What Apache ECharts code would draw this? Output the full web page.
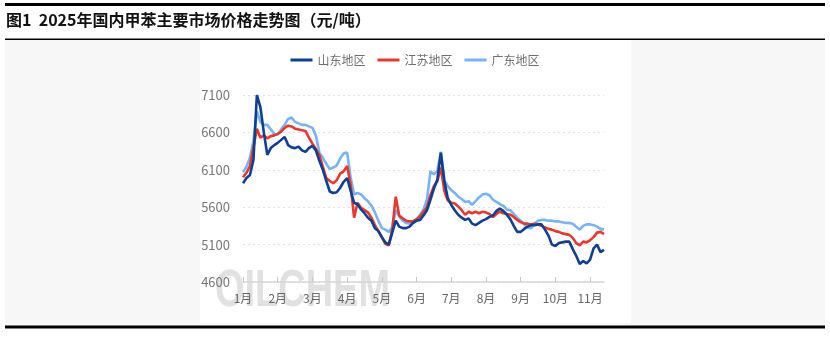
<!DOCTYPE html>
<html>
<head>
<meta charset="utf-8">
<script src="https://cdn.jsdelivr.net/npm/echarts@6/dist/echarts.min.js"></script>
<style>
  html, body { margin: 0; padding: 0; background: #ffffff; }
  #chart { width: 830px; height: 337px; }
</style>
</head>
<body>
<div id="chart"></div>
<script>
// Categories: sample dates (month/day), about every 3 days
const dates = [
  '1/1','1/4','1/7','1/10','1/13','1/16','1/19','1/22','1/25','1/28',
  '2/1','2/4','2/7','2/10','2/13','2/16','2/19','2/22','2/25','2/28',
  '3/1','3/4','3/7','3/10','3/13','3/16','3/19','3/22','3/25','3/28',
  '4/1','4/4','4/7','4/10','4/13','4/16','4/19','4/22','4/25','4/28',
  '5/1','5/4','5/7','5/10','5/13','5/16','5/19','5/22','5/25','5/28',
  '6/1','6/4','6/7','6/10','6/13','6/16','6/19','6/22','6/25','6/28',
  '7/1','7/4','7/7','7/10','7/13','7/16','7/19','7/22','7/25','7/28',
  '8/1','8/4','8/7','8/10','8/13','8/16','8/19','8/22','8/25','8/28',
  '9/1','9/4','9/7','9/10','9/13','9/16','9/19','9/22','9/25','9/28',
  '10/1','10/4','10/7','10/10','10/13','10/16','10/19','10/22','10/25','10/28',
  '11/1','11/4','11/7','11/10','11/13'
];

const seriesNames = ['山东地区', '江苏地区', '广东地区'];

// 山东地区 (元/吨)
const shandong = [
  5920,5990,6030,6230,7100,6940,6600,6300,6390,6430,
  6460,6500,6540,6430,6400,6390,6410,6360,6340,6390,
  6420,6360,6220,6100,5950,5810,5790,5800,5860,5940,
  5990,5820,5660,5640,5570,5520,5460,5420,5320,5280,
  5200,5130,5100,5260,5420,5340,5320,5320,5340,5390,
  5420,5430,5490,5560,5700,5850,5970,6330,5950,5720,
  5630,5560,5500,5460,5430,5450,5380,5360,5390,5420,
  5440,5470,5490,5550,5580,5550,5500,5440,5350,5270,
  5270,5310,5340,5360,5360,5370,5370,5300,5220,5100,
  5080,5120,5130,5140,5140,5040,4950,4840,4880,4850,
  4900,5050,5100,5000,5030
];

// 江苏地区 (元/吨)
const jiangsu = [
  6000,6060,6150,6400,6650,6530,6560,6520,6550,6560,
  6580,6610,6660,6690,6680,6650,6640,6630,6620,6530,
  6450,6380,6300,6140,5990,5950,5920,5960,6050,6080,
  6150,5900,5460,5660,5590,5560,5530,5460,5360,5280,
  5200,5110,5090,5300,5740,5490,5450,5420,5410,5410,
  5440,5480,5540,5600,5760,5880,5950,6130,5820,5690,
  5660,5650,5610,5560,5500,5540,5520,5540,5520,5540,
  5530,5510,5470,5510,5540,5520,5510,5500,5470,5430,
  5400,5380,5380,5370,5380,5370,5350,5330,5310,5300,
  5280,5270,5250,5240,5230,5190,5120,5090,5140,5130,
  5160,5200,5260,5270,5240
];

// 广东地区 (元/吨)
const guangdong = [
  6070,6140,6260,6480,6880,6740,6700,6700,6640,6580,
  6570,6640,6700,6780,6800,6740,6720,6700,6700,6680,
  6660,6560,6330,6260,6180,6110,6130,6160,6250,6320,
  6330,6000,5770,5790,5770,5720,5680,5620,5530,5420,
  5320,5300,5270,5330,5560,5480,5420,5390,5380,5390,
  5420,5500,5570,5700,6080,6040,6090,6340,5960,5880,
  5830,5790,5740,5710,5670,5680,5630,5680,5730,5770,
  5780,5760,5700,5670,5640,5620,5570,5560,5510,5460,
  5420,5370,5330,5320,5380,5420,5430,5430,5420,5420,
  5410,5410,5400,5390,5390,5380,5340,5300,5350,5370,
  5370,5360,5340,5310,5300
];

const yTicks = { min: 4600, max: 7100, step: 500 };
const colors = ['#0e3f91', '#e8382d', '#78b3f6'];

const chart = echarts.init(document.getElementById('chart'), null, { renderer: 'canvas' });

const isMonthStart = (idx, val) => /\/1$/.test(val);

chart.setOption({
  animation: false,
  backgroundColor: '#ffffff',
  title: {
    text: '图1  2025年国内甲苯主要市场价格走势图（元/吨）',
    left: 6, top: 12, padding: 0,
    textStyle: { fontFamily: 'Noto Sans CJK SC', fontWeight: 'bold', fontSize: 16, color: '#111' }
  },
  graphic: [
    { type: 'rect', z: -10, silent: true, shape: { x: 5, y: 40, width: 820, height: 286 }, style: { fill: '#f7f7f7' } },
    { type: 'rect', z: -9, silent: true, shape: { x: 200, y: 40, width: 431, height: 283 }, style: { fill: '#ffffff' } },
    { type: 'rect', z: 100, silent: true, shape: { x: 5, y: 3, width: 820, height: 3 }, style: { fill: '#000' } },
    { type: 'rect', z: 100, silent: true, shape: { x: 5, y: 38.5, width: 820, height: 1.5 }, style: { fill: '#000' } },
    { type: 'rect', z: 100, silent: true, shape: { x: 5, y: 325.5, width: 820, height: 3 }, style: { fill: '#000' } },
    { type: 'text', z: -5, silent: true, x: 215, y: 266, scaleX: 0.73,
      style: { text: 'OILCHEM', font: 'bold 52px "Liberation Sans"', fill: 'rgba(200,200,200,0.55)' } }
  ],
  legend: {
    data: seriesNames,
    left: 'center', top: 49,
    icon: 'rect', itemWidth: 22, itemHeight: 3, itemGap: 12,
    textStyle: { fontFamily: 'Noto Sans CJK SC', fontSize: 12, color: '#707070' }
  },
  grid: { left: 243, right: 226, top: 95, bottom: 55 },
  xAxis: {
    type: 'category',
    data: dates,
    boundaryGap: false,
    axisLine: { lineStyle: { color: '#d6d6d6', width: 1.5 } },
    axisTick: { show: true, inside: true, length: 5, interval: isMonthStart, lineStyle: { color: '#c8c8c8' } },
    axisLabel: {
      interval: isMonthStart,
      margin: 10,
      fontFamily: 'Noto Sans CJK SC', fontSize: 12, color: '#666',
      formatter: (v) => v.split('/')[0] + '月'
    },
    splitLine: { show: false }
  },
  yAxis: {
    type: 'value',
    min: yTicks.min, max: yTicks.max, interval: yTicks.step,
    axisLine: { show: false },
    axisTick: { show: false },
    axisLabel: { margin: 13, fontFamily: 'Noto Sans CJK SC', fontSize: 13, color: '#777',
      formatter: (v) => String(v) },
    splitLine: { lineStyle: { color: '#e2e2e2', type: [2, 3], width: 1.2 } }
  },
  series: [
    { name: seriesNames[0], type: 'line', data: shandong, z: 5, showSymbol: false, clip: false,
      lineStyle: { color: colors[0], width: 2.6 }, itemStyle: { color: colors[0] } },
    { name: seriesNames[1], type: 'line', data: jiangsu, z: 4, showSymbol: false, clip: false,
      lineStyle: { color: colors[1], width: 2.6 }, itemStyle: { color: colors[1] } },
    { name: seriesNames[2], type: 'line', data: guangdong, z: 3, showSymbol: false, clip: false,
      lineStyle: { color: colors[2], width: 2.6 }, itemStyle: { color: colors[2] } }
  ]
});
</script>
</body>
</html>
